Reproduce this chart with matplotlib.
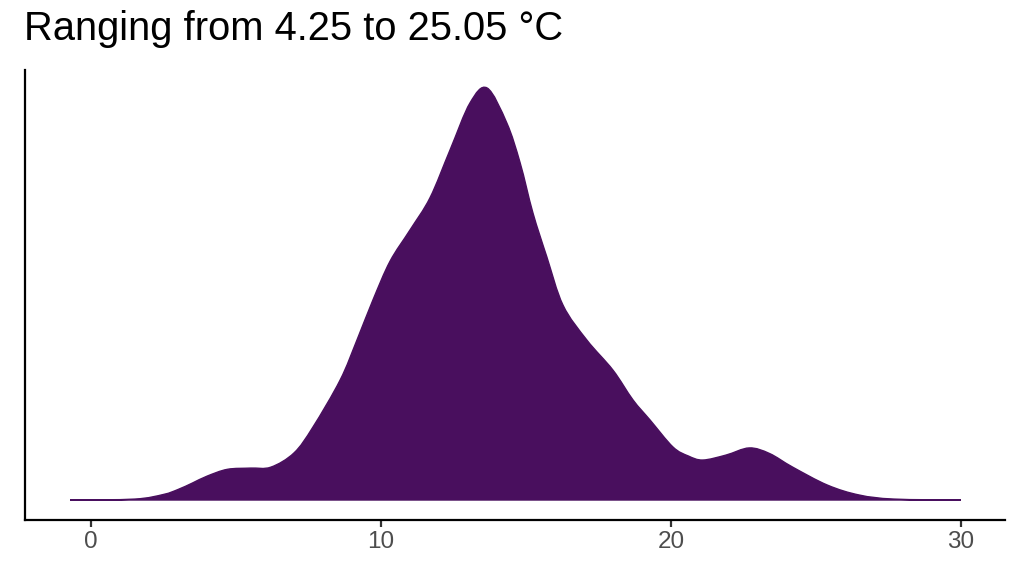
import matplotlib
matplotlib.use("Agg")
import matplotlib.pyplot as plt
from matplotlib.path import Path
from matplotlib.patches import PathPatch

# density (temperature in °C, kernel density)
temp = [-0.72, 1.5, 2.5, 3.0, 3.5, 4.0, 4.7, 5.5, 6.2, 7.0, 7.65, 8.59,
        9.17, 9.72, 10.31, 11.0, 11.69, 12.38, 13.07, 13.66, 14.34, 14.8,
        15.24, 15.72, 16.28, 17.1, 18.0, 18.69, 19.28, 20.07, 20.6, 21.1,
        21.9, 22.7, 23.4, 24.2, 25.4, 26.5, 27.7, 30.0]
density = [0.0, 0.0003, 0.0018, 0.0034, 0.0055, 0.0077, 0.0099,
           0.0103, 0.0106, 0.0152, 0.0235, 0.0387, 0.0516, 0.0645, 0.0770,
           0.0871, 0.0975, 0.1129, 0.1281, 0.1329, 0.1216, 0.1087, 0.0926,
           0.0784, 0.0628, 0.0516, 0.0419, 0.0323, 0.0258, 0.0171, 0.0142,
           0.0129, 0.0145, 0.0168, 0.0150, 0.0106, 0.0048, 0.0016, 0.0003,
           0.0]
x_ticks = [0, 10, 20, 30]
title = "Ranging from 4.25 to 25.05 °C"


def smooth_path(xs, ys):
    # Catmull-Rom through the points, drawn as cubic bezier segments
    verts = [(xs[0], 0.0), (xs[0], ys[0])]
    codes = [Path.MOVETO, Path.LINETO]
    n = len(xs)
    for i in range(n - 1):
        x0, y0 = (xs[i - 1], ys[i - 1]) if i > 0 else (xs[i], ys[i])
        x1, y1 = xs[i], ys[i]
        x2, y2 = xs[i + 1], ys[i + 1]
        x3, y3 = (xs[i + 2], ys[i + 2]) if i + 2 < n else (x2, y2)
        c1 = (x1 + (x2 - x0) / 6, max(y1 + (y2 - y0) / 6, 0))
        c2 = (x2 - (x3 - x1) / 6, max(y2 - (y3 - y1) / 6, 0))
        verts += [c1, c2, (x2, y2)]
        codes += [Path.CURVE4] * 3
    verts += [(xs[-1], 0.0), (xs[0], 0.0)]
    codes += [Path.LINETO, Path.CLOSEPOLY]
    return Path(verts, codes)


plt.rcParams['font.family'] = ['Liberation Sans', 'DejaVu Sans']

fig = plt.figure(figsize=(10.24, 5.76), dpi=100)
ax = fig.add_axes([0.0244, 0.0972, 0.957, 0.78125])

fill_color = '#490F5E'
ax.add_patch(PathPatch(smooth_path(temp, density), facecolor=fill_color,
                       edgecolor=fill_color, linewidth=1.0))

ax.set_xlim(-2.28, 31.52)
ax.set_ylim(-0.00645, 0.1387)

for side in ['top', 'right']:
    ax.spines[side].set_visible(False)
for side in ['left', 'bottom']:
    ax.spines[side].set_linewidth(1.6)
    ax.spines[side].set_color('black')

ax.set_yticks([])
ax.set_xticks(x_ticks)
ax.tick_params(axis='x', length=5, width=1.6, color='#333333',
               labelcolor='#4d4d4d', labelsize=17.5, pad=3)

fig.text(0.0235, 0.9306, title, fontsize=28.7, color='black', ha='left', va='baseline')

fig.savefig('out.png', dpi=100)
